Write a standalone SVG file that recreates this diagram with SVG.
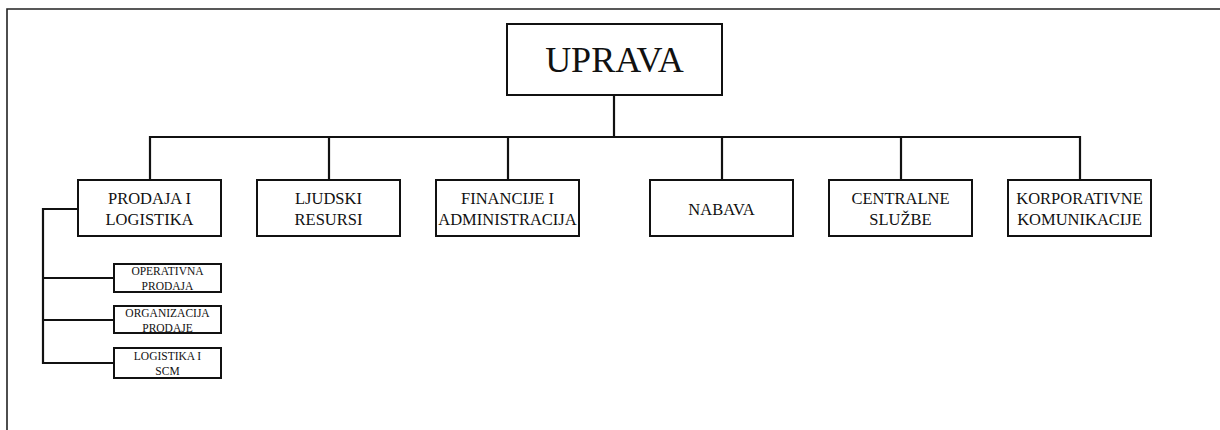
<svg xmlns="http://www.w3.org/2000/svg" width="1220" height="430" viewBox="0 0 1220 430">
<style>
.box{fill:#fff;stroke:#111;stroke-width:2}
.conn{fill:none;stroke:#111;stroke-width:2.2}
.frame{fill:none;stroke:#222;stroke-width:1.6}
text{font-family:"Liberation Serif","Times New Roman",serif;fill:#111;text-anchor:middle}
.t{font-size:16.5px}
.s{font-size:11.5px}
.big{font-size:36px}
</style>
<rect width="1220" height="430" fill="#fff"/>
<path class="frame" d="M7 430 V9 H1220"/>
<g id="connectors">
<path class="conn" d="M614 95 V137"/>
<path class="conn" d="M150 180 V137 H1080 V180"/>
<path class="conn" d="M329 137 V180"/>
<path class="conn" d="M508 137 V180"/>
<path class="conn" d="M722 137 V180"/>
<path class="conn" d="M901 137 V180"/>
<path class="conn" d="M78 209 H43 V363 H114"/>
<path class="conn" d="M43 278 H114"/>
<path class="conn" d="M43 320 H114"/>
</g>
<g id="uprava">
<rect class="box" x="507" y="24" width="215" height="71"/>
<text class="big" x="614.5" y="72">UPRAVA</text>
</g>
<g id="prodaja">
<rect class="box" x="78" y="180" width="143" height="56"/>
<text class="t" x="149.5" y="204">PRODAJA I</text>
<text class="t" x="149.5" y="225">LOGISTIKA</text>
</g>
<g id="ljudski">
<rect class="box" x="257" y="180" width="143" height="56"/>
<text class="t" x="328.5" y="204">LJUDSKI</text>
<text class="t" x="328.5" y="225">RESURSI</text>
</g>
<g id="financije">
<rect class="box" x="436" y="180" width="143" height="56"/>
<text class="t" x="507.5" y="204">FINANCIJE I</text>
<text class="t" x="507.5" y="225">ADMINISTRACIJA</text>
</g>
<g id="nabava">
<rect class="box" x="650" y="180" width="143" height="56"/>
<text class="t" x="721.5" y="215">NABAVA</text>
</g>
<g id="centralne">
<rect class="box" x="829" y="180" width="143" height="56"/>
<text class="t" x="900.5" y="204">CENTRALNE</text>
<text class="t" x="900.5" y="225">SLUŽBE</text>
</g>
<g id="korporativne">
<rect class="box" x="1008" y="180" width="143" height="56"/>
<text class="t" x="1079.5" y="204">KORPORATIVNE</text>
<text class="t" x="1079.5" y="225">KOMUNIKACIJE</text>
</g>
<g id="operativna">
<rect class="box" x="114" y="264" width="107" height="28"/>
<text class="s" x="167.5" y="275">OPERATIVNA</text>
<text class="s" x="167.5" y="290">PRODAJA</text>
</g>
<g id="organizacija">
<rect class="box" x="114" y="306" width="107" height="27"/>
<text class="s" x="167.5" y="317">ORGANIZACIJA</text>
<text class="s" x="167.5" y="332">PRODAJE</text>
</g>
<g id="logistika-scm">
<rect class="box" x="114" y="348" width="107" height="30"/>
<text class="s" x="167.5" y="360">LOGISTIKA I</text>
<text class="s" x="167.5" y="375">SCM</text>
</g>
</svg>
